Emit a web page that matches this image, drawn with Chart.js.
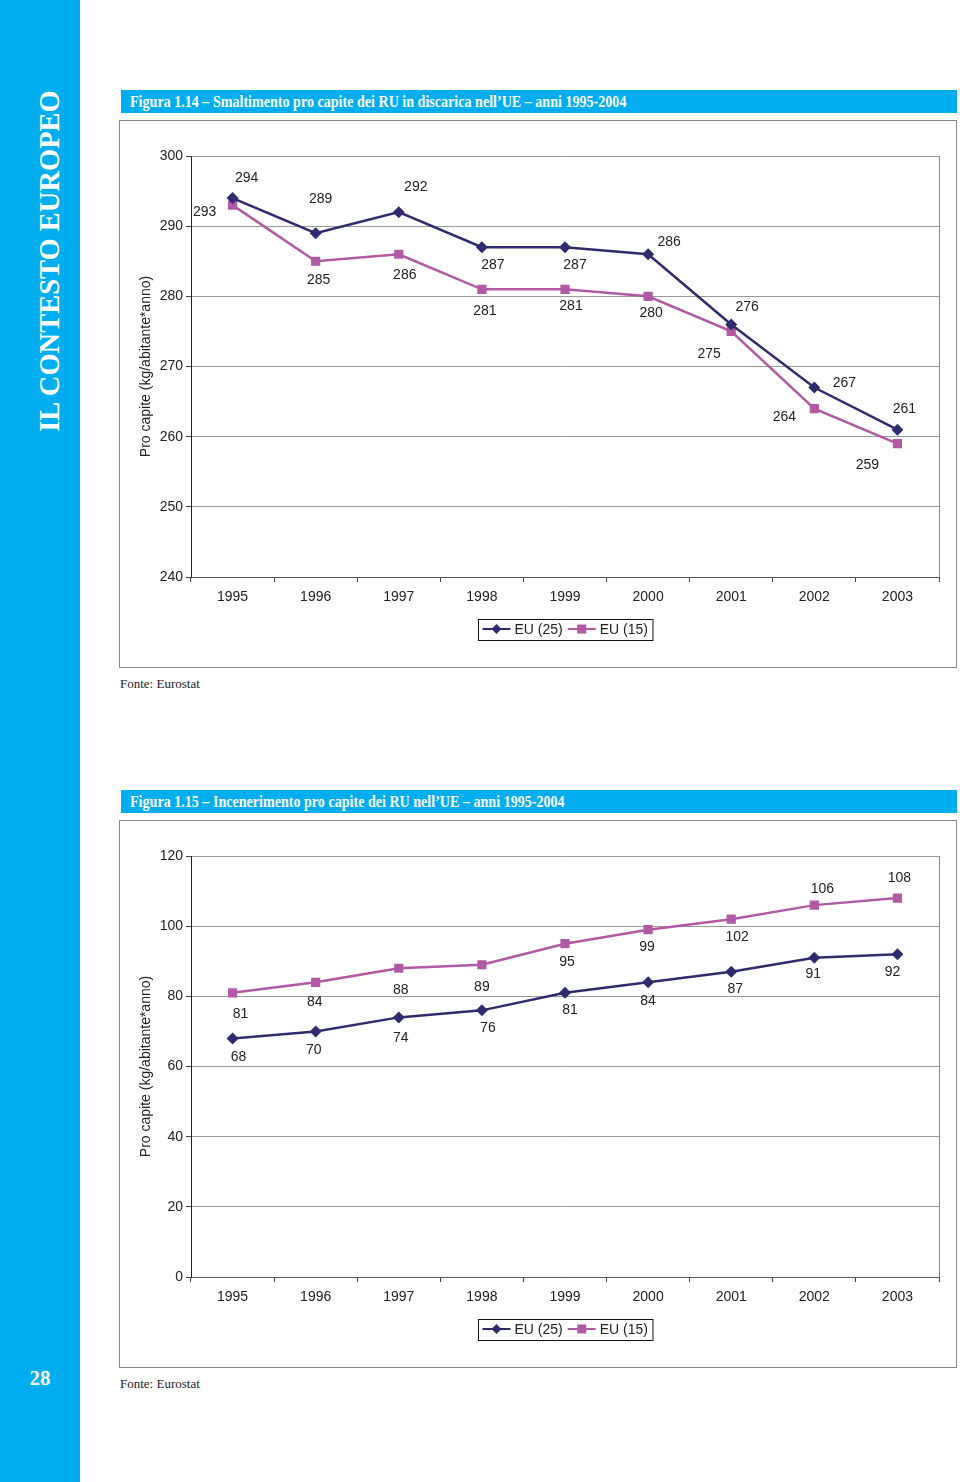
<!DOCTYPE html>
<html>
<head>
<meta charset="utf-8">
<script src="https://cdn.jsdelivr.net/npm/chart.js@4.4.1/dist/chart.umd.min.js"></script>
<style>
  body { margin: 0; width: 960px; height: 1482px; background: #fff; position: relative; overflow: hidden; }
  #sidebar { position: absolute; left: 0; top: 0; width: 80px; height: 1482px; background: #00aeef; }
  #side-title { position: absolute; left: 50px; top: 261px; transform: translate(-50%, -50%) rotate(-90deg);
    white-space: nowrap; color: #fff; font: bold 28.5px "Liberation Serif", "DejaVu Serif", serif; }
  #page-num { position: absolute; left: 0; width: 80px; top: 1366px; text-align: center; color: #fff;
    font: bold 21px "Liberation Serif", serif; }
  .fig-title { position: absolute; left: 121px; width: 836px; height: 23px; background: #00aeef; color: #fff;
    font: bold 16px "Liberation Serif", serif; line-height: 23px; }
  .fig-title span { display: inline-block; margin-left: 9px; transform-origin: left center; transform: scaleX(0.88); white-space: nowrap; }
  .box { position: absolute; left: 119px; width: 836px; height: 546px; border: 1px solid #888; }
  .box canvas { position: absolute; left: 0; top: 0; }
  .fonte { position: absolute; left: 120px; font: 13px "Liberation Serif", serif; color: #222; }
</style>
</head>
<body>
<div id="sidebar"></div>
<div id="side-title">IL CONTESTO EUROPEO</div>
<div id="page-num">28</div>

<div class="fig-title" style="top:90px"><span>Figura 1.14 – Smaltimento pro capite dei RU in discarica nell’UE – anni 1995-2004</span></div>
<div class="box" style="top:120px"><canvas id="chart-landfill" width="836" height="546"></canvas></div>
<div class="fonte" style="top:676px">Fonte: Eurostat</div>

<div class="fig-title" style="top:790px"><span>Figura 1.15 – Incenerimento pro capite dei RU nell’UE – anni 1995-2004</span></div>
<div class="box" style="top:820px"><canvas id="chart-incin" width="836" height="546"></canvas></div>
<div class="fonte" style="top:1376px">Fonte: Eurostat</div>

<script>
// data
var years = ["1995", "1996", "1997", "1998", "1999", "2000", "2001", "2002", "2003"];
var seriesNames = ["EU (25)", "EU (15)"];

var landfillEU25 = [294, 289, 292, 287, 287, 286, 276, 267, 261];
var landfillEU15 = [293, 285, 286, 281, 281, 280, 275, 264, 259];
var landfillTicks = [240, 250, 260, 270, 280, 290, 300];

var incinEU25 = [68, 70, 74, 76, 81, 84, 87, 91, 92];
var incinEU15 = [81, 84, 88, 89, 95, 99, 102, 106, 108];
var incinTicks = [0, 20, 40, 60, 80, 100, 120];

// label offsets (px from the point), per series
var landfillOffsets = [
  [[14, -20], [5, -34], [17, -25], [11, 18], [10, 18], [21, -12], [16, -17], [30, -4], [7, -21]],
  [[-28, 7], [3, 19], [6, 21], [3, 22], [6, 17], [3, 17], [-22, 23], [-30, 9], [-30, 21]]
];
var incinOffsets = [
  [[6, 19], [-2, 19], [2, 21], [6, 18], [5, 17], [0, 19], [4, 17], [-1, 16], [-5, 18]],
  [[8, 21], [-1, 20], [2, 22], [0, 22], [2, 18], [-1, 17], [6, 18], [8, -16], [2, -20]]
];

var navy = "#2e2b6e";
var pink = "#b259a4";
var sansFont = "'Liberation Sans', Arial, sans-serif";

// draws the value next to every point
var valueLabels = {
  id: "valueLabels",
  afterDatasetsDraw: function(chart) {
    var ctx = chart.ctx;
    var offs = chart.options.plugins.valueLabels.offsets;
    ctx.save();
    ctx.font = "14px " + sansFont;
    ctx.fillStyle = "#222";
    ctx.textAlign = "center";
    ctx.textBaseline = "middle";
    chart.data.datasets.forEach(function(ds, i) {
      chart.getDatasetMeta(i).data.forEach(function(pt, j) {
        ctx.fillText(String(ds.data[j]), pt.x + offs[i][j][0], pt.y + offs[i][j][1]);
      });
    });
    ctx.restore();
  }
};

// right edge of plot area + excel-like boxed legend
var frameAndLegend = {
  id: "frameAndLegend",
  beforeDatasetsDraw: function(chart) {
    var a = chart.chartArea;
    var ctx = chart.ctx;
    ctx.save();
    ctx.strokeStyle = "#888";
    ctx.lineWidth = 1;
    ctx.beginPath();
    ctx.moveTo(Math.round(a.right) + 0.5, a.top);
    ctx.lineTo(Math.round(a.right) + 0.5, a.bottom);
    ctx.stroke();
    ctx.restore();
  },
  afterDraw: function(chart) {
    var ctx = chart.ctx;
    var a = chart.chartArea;
    ctx.save();
    ctx.font = "14px " + sansFont;
    var items = chart.data.datasets.map(function(ds) {
      return { ds: ds, w: ctx.measureText(ds.label).width };
    });
    var lineLen = 28;
    var total = 4;
    items.forEach(function(it) { total += lineLen + 4 + it.w + 5; });
    var h = 21;
    var cx = (a.left + a.right) / 2;
    var cy = a.bottom + 52;
    var bx = Math.round(cx - total / 2) + 0.5;
    var by = Math.round(cy - h / 2) + 0.5;
    ctx.strokeStyle = "#111";
    ctx.lineWidth = 1;
    ctx.strokeRect(bx, by, total, h);
    var x = bx + 4;
    items.forEach(function(it) {
      var ds = it.ds;
      ctx.strokeStyle = ds.borderColor;
      ctx.lineWidth = 2;
      ctx.beginPath();
      ctx.moveTo(x, cy);
      ctx.lineTo(x + lineLen, cy);
      ctx.stroke();
      ctx.fillStyle = ds.borderColor;
      var mx = x + lineLen / 2;
      if (ds.pointStyle === "rectRot") {
        ctx.beginPath();
        ctx.moveTo(mx, cy - 5);
        ctx.lineTo(mx + 5, cy);
        ctx.lineTo(mx, cy + 5);
        ctx.lineTo(mx - 5, cy);
        ctx.closePath();
        ctx.fill();
      } else {
        ctx.fillRect(mx - 4.5, cy - 4.5, 9, 9);
      }
      ctx.fillStyle = "#222";
      ctx.textBaseline = "middle";
      ctx.fillText(ds.label, x + lineLen + 4, cy + 1);
      x += lineLen + 4 + it.w + 5;
    });
    ctx.restore();
  }
};

var makeChart = function(id, s25, s15, ticks, offsets) {
  var ctx = document.getElementById(id).getContext("2d");
  return new Chart(ctx, {
    type: "line",
    data: {
      labels: years,
      datasets: [
        {
          label: seriesNames[0],
          data: s25,
          borderColor: navy,
          backgroundColor: navy,
          borderWidth: 2.5,
          pointStyle: "rectRot",
          pointRadius: 6,
          pointBorderWidth: 0,
          tension: 0
        },
        {
          label: seriesNames[1],
          data: s15,
          borderColor: pink,
          backgroundColor: pink,
          borderWidth: 2.5,
          pointStyle: "rect",
          pointRadius: 6.5,
          pointBorderWidth: 0,
          tension: 0
        }
      ]
    },
    options: {
      responsive: false,
      animation: false,
      devicePixelRatio: 1,
      layout: { padding: { left: 14, top: 35, right: 17, bottom: 60 } },
      plugins: {
        legend: { display: false },
        tooltip: { enabled: false },
        valueLabels: { offsets: offsets }
      },
      scales: {
        x: {
          offset: true,
          grid: { offset: true, drawOnChartArea: false, drawTicks: true, tickLength: 5, tickColor: "#444" },
          border: { color: "#555", width: 1 },
          ticks: { color: "#222", font: { size: 14, family: sansFont }, padding: 7, maxRotation: 0 },
          afterFit: function(scale) { scale.height = 30; }
        },
        y: {
          min: ticks[0],
          max: ticks[ticks.length - 1],
          afterBuildTicks: function(scale) {
            scale.ticks = ticks.map(function(v) { return { value: v }; });
          },
          grid: { color: "#999", tickLength: 5, tickColor: "#444" },
          border: { color: "#222", width: 1 },
          ticks: { color: "#222", font: { size: 14, family: sansFont }, padding: 3 },
          title: {
            display: true,
            text: "Pro capite (kg/abitante*anno)",
            color: "#222",
            font: { size: 14, family: sansFont },
            padding: { top: 4, bottom: 4 }
          },
          afterFit: function(scale) { scale.width = 57; }
        }
      }
    },
    plugins: [valueLabels, frameAndLegend]
  });
};

makeChart("chart-landfill", landfillEU25, landfillEU15, landfillTicks, landfillOffsets);
makeChart("chart-incin", incinEU25, incinEU15, incinTicks, incinOffsets);
</script>
</body>
</html>
